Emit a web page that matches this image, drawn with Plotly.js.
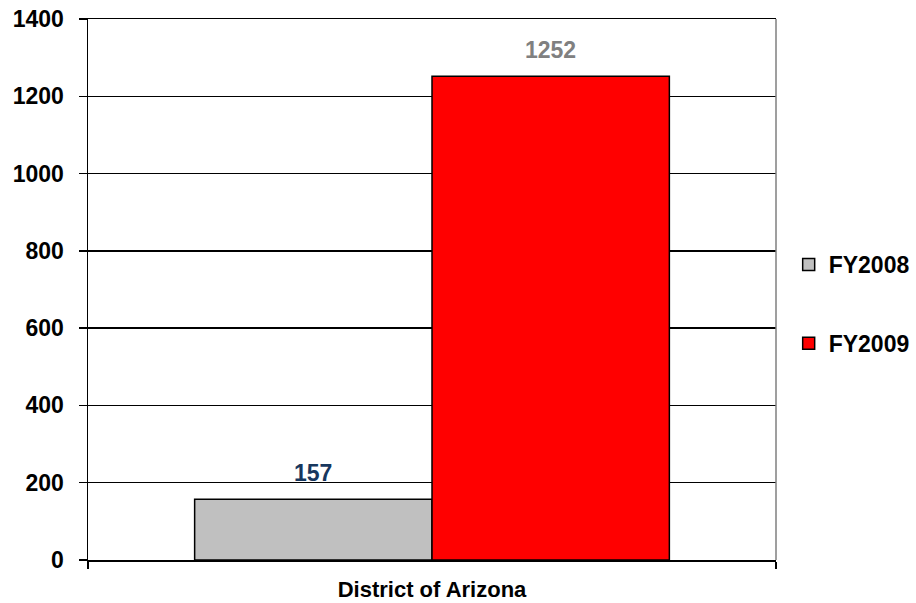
<!DOCTYPE html>
<html>
<head>
<meta charset="utf-8">
<script src="https://cdn.plot.ly/plotly-3.0.1.min.js"></script>
<style>html,body{margin:0;padding:0;background:#fff;}#chart{width:916px;height:603px;}</style>
</head>
<body>
<div id="chart"></div>
<script>
const categories = ["District of Arizona"];
const seriesNames = ["FY2008", "FY2009"];
const fy2008 = [157];
const fy2009 = [1252];
const yTicks = [0, 200, 400, 600, 800, 1000, 1200, 1400];

const FONT = "Liberation Sans, Arial, sans-serif";
const BARGAP = 0.31;
const groupWidth = 1 - BARGAP;

const traces = [
  {type: "bar", name: seriesNames[0], x: categories, y: fy2008, legendgroup: "a",
   marker: {color: "#C0C0C0", line: {color: "#000", width: 1.5}}},
  {type: "bar", name: seriesNames[1], x: categories, y: fy2009, legendgroup: "b",
   marker: {color: "#FF0000", line: {color: "#000", width: 1.5}}}
];

const labelColors = ["#17375E", "#808080"];
const annotations = [fy2008, fy2009].map((vals, s) => ({
  xref: "x", yref: "y",
  x: 0 + (s === 0 ? -1 : 1) * groupWidth / 4,
  y: vals[0], text: "<b>" + vals[0] + "</b>",
  showarrow: false, yanchor: "middle", yshift: 26,
  font: {family: FONT, size: 23, color: labelColors[s]}
}));

const layout = {
  width: 916, height: 603,
  margin: {l: 88, r: 140, t: 19, b: 43, pad: 0},
  paper_bgcolor: "#fff", plot_bgcolor: "#fff",
  barmode: "group", bargap: BARGAP, bargroupgap: 0,
  font: {family: FONT, color: "#000"},
  xaxis: {
    type: "category", tickson: "boundaries", ticks: "outside", ticklen: 7, tickwidth: 1.5,
    tickcolor: "#000", showline: true, linecolor: "#000", linewidth: 1.5,
    showgrid: false, mirror: true,
    tickfont: {family: FONT, size: 22, color: "#000", weight: "bold"},
    ticklabelstandoff: 9
  },
  yaxis: {
    range: [0, 1400], tickvals: yTicks, ticktext: yTicks.map(String),
    ticks: "outside", ticklen: 8, tickwidth: 1.5, tickcolor: "#000",
    showline: true, linecolor: "#000", linewidth: 1.5,
    showgrid: true, gridcolor: "#000", gridwidth: 1.5, zeroline: false,
    tickfont: {family: FONT, size: 23, color: "#000", weight: "bold"},
    ticklabelstandoff: 10
  },
  showlegend: true,
  legend: {
    xref: "container", yref: "container", x: 0.861, y: 0.597, xanchor: "left", yanchor: "top",
    traceorder: "grouped", tracegroupgap: 46,
    font: {family: FONT, size: 23, color: "#000", weight: "bold"},
    bgcolor: "rgba(0,0,0,0)", borderwidth: 0
  },
  annotations: annotations,
  shapes: [{type: "line", xref: "paper", yref: "paper", x0: 1, x1: 1, y0: 0, y1: 1,
            line: {color: "#7F7F7F", width: 1.5}}]
};

Plotly.newPlot("chart", traces, layout, {displayModeBar: false, staticPlot: true});
</script>
</body>
</html>
